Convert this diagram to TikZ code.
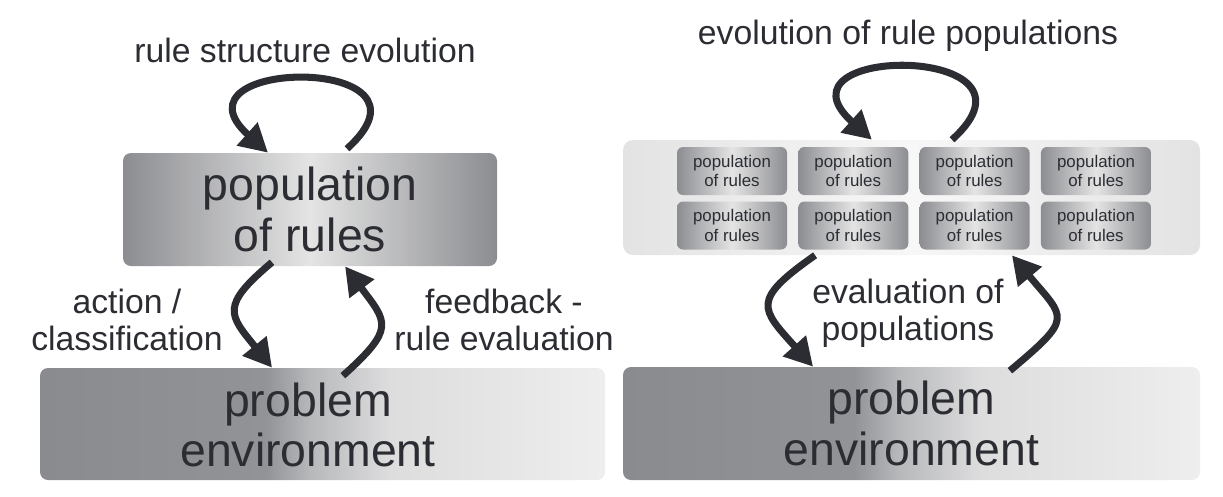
\documentclass[tikz,border=0pt]{standalone}
\usepackage{fontspec}
\setmainfont{Liberation Sans}
\usepackage{xcolor}
\usetikzlibrary{arrows.meta, positioning, calc}
\definecolor{inkdark}{HTML}{2B2D33}
\definecolor{boxdark}{HTML}{8C8D91}
\definecolor{boxlight}{HTML}{E4E4E4}
\definecolor{panelgray}{HTML}{E3E3E4}
\definecolor{panellight}{HTML}{F7F7F7}
\definecolor{envdark}{HTML}{8A8B8F}
\definecolor{envdarkb}{HTML}{929397}
\definecolor{envmid}{HTML}{B8B9BB}
\definecolor{envlightb}{HTML}{DDDDDE}
\definecolor{envlight}{HTML}{EEEEEE}
\pgfdeclarehorizontalshading{envshade}{100bp}{color(0bp)=(envdark); color(25bp)=(envdark); color(45bp)=(envdarkb); color(49bp)=(envmid); color(56bp)=(envlightb); color(75bp)=(envlight); color(100bp)=(envlight)}

\begin{document}
\begin{tikzpicture}[
  rulebox/.style={left color=boxdark, right color=boxdark, middle color=boxlight, rounded corners=0.2cm, inner sep=0pt, align=center, text=inkdark, font=\fontsize{33}{36}\selectfont},
  popbox/.style={left color=boxdark, right color=boxdark, middle color=boxlight, rounded corners=0.15cm, inner sep=0pt, minimum width=2.75cm, minimum height=1.2cm, align=center, text=inkdark, font=\fontsize{12}{14}\selectfont},
  envbox/.style={shading=envshade, rounded corners=0.2cm, inner sep=0pt, align=center, text=inkdark, font=\fontsize{33}{36}\selectfont},
  lbl/.style={align=center, text=inkdark, font=\fontsize{24}{26}\selectfont},
  flow/.style={line width=5pt, draw=inkdark, -{Triangle[length=20pt, width=21pt]}}
]
  \useasboundingbox (0,0) rectangle (30.575,-12.4);

  % left: one population
  \node[rulebox, minimum width=9.35cm, minimum height=2.825cm] (rules) at (7.75,-5.2375) {population\\of rules};
  \node[envbox, minimum width=14.125cm, minimum height=2.8cm] (envL) at (8.0625,-10.6) {};
  \node[align=center, text=inkdark, font=\fontsize{33}{36}\selectfont] (envLtxt) at (7.7,-10.62) {problem\\environment};

  \node[lbl] (ruleevo) at (7.625,-1.25) {rule structure evolution};
  \node[lbl] (actlbl) at (3.175,-8.0) {action /\\classification};
  \node[lbl] (fbklbl) at (12.6,-8.0) {feedback -\\rule evaluation};

  \draw[flow] ([xshift=0.925cm,yshift=0.1cm]rules.north) to[out=42, in=138, looseness=4.6] ([xshift=-1.05cm]rules.north);
  \draw[flow] ([xshift=-0.95cm,yshift=0.1cm]rules.south) to[out=-140, in=129, looseness=1.66] ([xshift=-1.26cm]envL.north);
  \draw[flow] ([xshift=0.51cm,yshift=-0.2cm]envL.north) to[out=42, in=-53, looseness=1.65] ([xshift=0.875cm]rules.south);

  % right: many populations
  \node[left color=panelgray, right color=panelgray, middle color=panellight, rounded corners=0.25cm, minimum width=14.425cm, minimum height=2.875cm] (panel) at (22.7875,-4.9375) {};
  \foreach \col in {0,...,3}
    \foreach \row in {0,1}
      \node[popbox] (pop\col\row) at ({18.3+3.033*\col},{-4.275-1.3625*\row}) {population\\of rules};
  \node[envbox, minimum width=14.425cm, minimum height=2.825cm] (envR) at (22.7875,-10.5875) {problem\\environment};

  \node[lbl] (popevo) at (22.7,-0.9) {evolution of rule populations};
  \node[lbl] (evallbl) at (22.7,-7.825) {evaluation of\\populations};

  \draw[flow] ([xshift=1.0125cm]panel.north) to[out=42, in=138, looseness=4.6] ([xshift=-0.99cm]panel.north);
  \draw[flow] ([xshift=-2.41cm]panel.south) to[out=-145, in=132, looseness=1.8] ([xshift=-2.46cm]envR.north);
  \draw[flow] ([xshift=2.46cm,yshift=-0.1cm]envR.north) to[out=40, in=-50, looseness=1.85] ([xshift=2.51cm]panel.south);
\end{tikzpicture}
\end{document}
